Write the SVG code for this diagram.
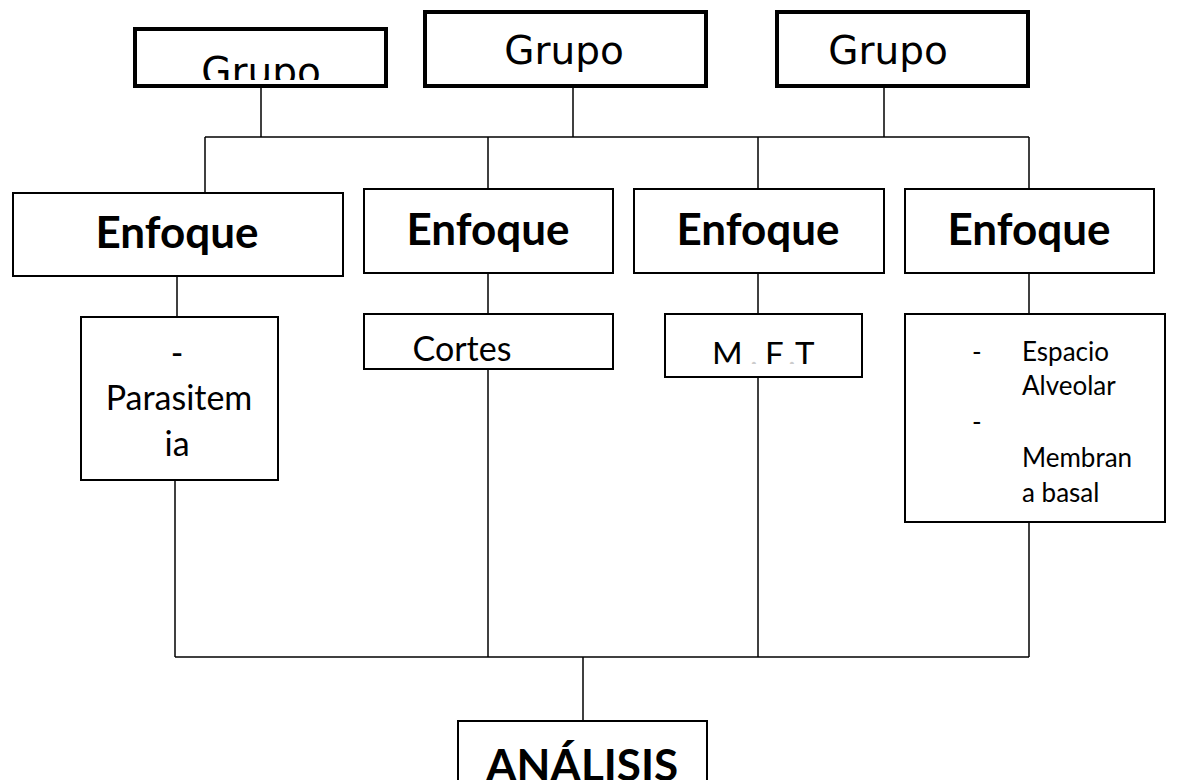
<svg xmlns="http://www.w3.org/2000/svg" width="1186" height="780" viewBox="0 0 1186 780">
<style>
.grp{fill:#fff;stroke:#000;stroke-width:4}
.box{fill:#fff;stroke:#000;stroke-width:2}
.gt{font-family:"DejaVu Sans",sans-serif;font-size:39px;text-anchor:middle;fill:#000}
.et{font-family:Lato,"Liberation Sans",sans-serif;font-weight:bold;font-size:44px;text-anchor:middle;fill:#000}
.bt{font-family:Lato,"Liberation Sans",sans-serif;font-size:34px;text-anchor:middle;fill:#000}
.st{font-family:Lato,"Liberation Sans",sans-serif;font-size:26px;fill:#000}
.c{stroke:#000;stroke-width:1.5;fill:none}
</style>
<defs>
<clipPath id="clip1"><rect x="137" y="31" width="247" height="49"/></clipPath>
<clipPath id="clipM"><rect x="666" y="315" width="195" height="49"/></clipPath>
</defs>
<rect width="1186" height="780" fill="#fff"/>
<g id="connectors">
<line class="c" x1="261" y1="88" x2="261" y2="137"/>
<line class="c" x1="573" y1="88" x2="573" y2="137"/>
<line class="c" x1="884" y1="88" x2="884" y2="137"/>
<line class="c" x1="205" y1="137" x2="1029" y2="137"/>
<line class="c" x1="205" y1="137" x2="205" y2="193"/>
<line class="c" x1="488" y1="137" x2="488" y2="189"/>
<line class="c" x1="758" y1="137" x2="758" y2="189"/>
<line class="c" x1="1029" y1="137" x2="1029" y2="189"/>
<line class="c" x1="177" y1="276" x2="177" y2="316"/>
<line class="c" x1="488" y1="273" x2="488" y2="314"/>
<line class="c" x1="758" y1="273" x2="758" y2="314"/>
<line class="c" x1="1029" y1="273" x2="1029" y2="314"/>
<line class="c" x1="175" y1="480" x2="175" y2="657"/>
<line class="c" x1="488" y1="369" x2="488" y2="657"/>
<line class="c" x1="758" y1="377" x2="758" y2="657"/>
<line class="c" x1="1029" y1="522" x2="1029" y2="657"/>
<line class="c" x1="175" y1="657" x2="1029" y2="657"/>
<line class="c" x1="583" y1="657" x2="583" y2="720"/>
</g>
<g id="grupo1">
<rect class="grp" x="135" y="29" width="251" height="57"/>
<text class="gt" x="261" y="85" clip-path="url(#clip1)">Grupo</text>
</g>
<g id="grupo2">
<rect class="grp" x="425" y="12" width="281" height="74"/>
<text class="gt" x="564" y="64">Grupo</text>
</g>
<g id="grupo3">
<rect class="grp" x="777" y="12" width="251" height="74"/>
<text class="gt" x="888" y="64">Grupo</text>
</g>
<g id="enfoque1">
<rect class="box" x="13" y="193" width="330" height="83"/>
<text class="et" x="177" y="248">Enfoque</text>
</g>
<g id="enfoque2">
<rect class="box" x="364" y="189" width="249" height="84"/>
<text class="et" x="488" y="245">Enfoque</text>
</g>
<g id="enfoque3">
<rect class="box" x="634" y="189" width="250" height="84"/>
<text class="et" x="758" y="245">Enfoque</text>
</g>
<g id="enfoque4">
<rect class="box" x="905" y="189" width="249" height="84"/>
<text class="et" x="1029" y="245">Enfoque</text>
</g>
<g id="parasitemia">
<rect class="box" x="81" y="317" width="197" height="163"/>
<text class="bt" x="177" y="365">-</text>
<text class="bt" x="179" y="410">Parasitem</text>
<text class="bt" x="177" y="456">ia</text>
</g>
<g id="cortes">
<rect class="box" x="364" y="314" width="249" height="55"/>
<text class="bt" x="462" y="361" font-size="36">Cortes</text>
</g>
<g id="mft">
<rect class="box" x="665" y="314" width="197" height="63"/>
<text x="712 750 765 788 795" y="366" font-family="Lato,'Liberation Sans',sans-serif" font-size="33" fill="#000" clip-path="url(#clipM)">M<tspan fill="#ccc">.</tspan>F<tspan fill="#ccc">.</tspan>T</text>
</g>
<g id="espacio">
<rect class="box" x="905" y="314" width="260" height="208"/>
<text class="st" x="972" y="361" font-size="32">-</text>
<text class="st" x="1022" y="361">Espacio</text>
<text class="st" x="1022" y="395">Alveolar</text>
<text class="st" x="972" y="431">-</text>
<text class="st" x="1022" y="467">Membran</text>
<text class="st" x="1022" y="502">a basal</text>
</g>
<g id="analisis">
<rect class="box" x="458" y="721" width="249" height="70"/>
<text class="et" x="582" y="781">ANÁLISIS</text>
</g>
</svg>
